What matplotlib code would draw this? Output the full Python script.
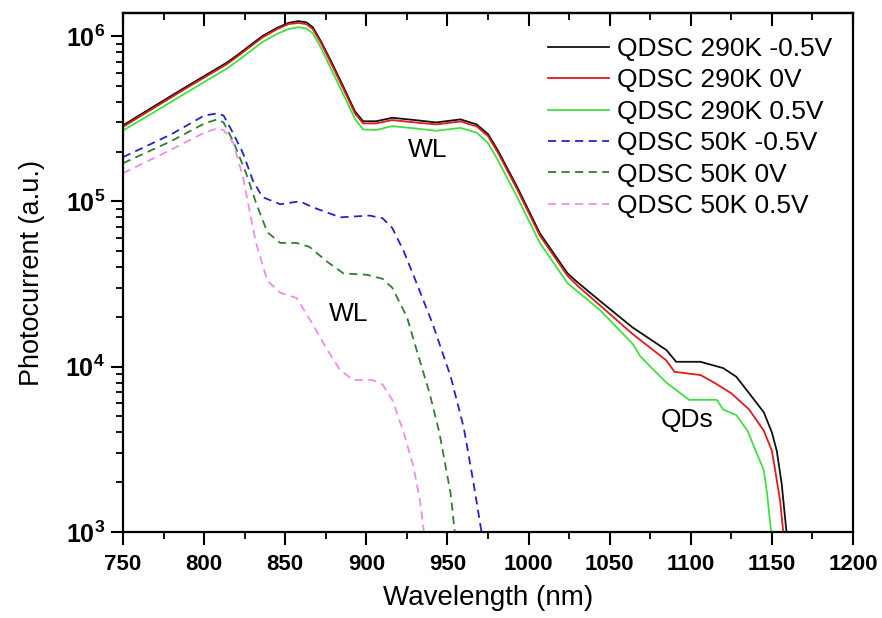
import math
import matplotlib
matplotlib.use("Agg")
import matplotlib.pyplot as plt
from matplotlib.ticker import MultipleLocator, LogLocator, FuncFormatter, NullFormatter

plt.rcParams['font.family'] = ['Liberation Sans', 'DejaVu Sans']
plt.rcParams['mathtext.fontset'] = 'custom'
plt.rcParams['mathtext.rm'] = 'Liberation Sans'
plt.rcParams['mathtext.bf'] = 'Liberation Sans:bold'

# ---- data ----
wl_290_m05 = [750, 770, 790, 814, 820, 836, 845, 852, 858, 863, 867, 872, 879, 886, 893, 898, 906, 916,
              930, 943, 958, 968, 975, 981, 993, 1007, 1024, 1030, 1044, 1064, 1085, 1091, 1106, 1120,
              1128, 1136, 1145, 1150, 1153, 1156, 1159, 1160]
pc_290_m05 = [2.88e5, 3.8e5, 5.0e5, 6.9e5, 7.6e5, 1.0e6, 1.12e6, 1.2e6, 1.23e6, 1.21e6, 1.13e6, 9.3e5,
              6.8e5, 4.9e5, 3.5e5, 3.05e5, 3.05e5, 3.2e5, 3.1e5, 3.0e5, 3.13e5, 2.92e5, 2.55e5, 2.04e5,
              1.22e5, 6.4e4, 3.67e4, 3.25e4, 2.5e4, 1.73e4, 1.26e4, 1.07e4, 1.07e4, 9.8e3, 8.7e3, 6.9e3,
              5.3e3, 4.0e3, 3.1e3, 1.97e3, 1.0e3, 8e2]

wl_290_0 = [750, 770, 790, 814, 820, 836, 845, 852, 858, 863, 867, 872, 879, 886, 893, 898, 906, 916,
            930, 943, 958, 968, 975, 981, 993, 1007, 1024, 1030, 1044, 1064, 1085, 1090, 1106, 1115,
            1125, 1136, 1145, 1150, 1152, 1155, 1157, 1158]
pc_290_0 = [2.82e5, 3.72e5, 4.9e5, 6.75e5, 7.45e5, 9.8e5, 1.1e6, 1.18e6, 1.2e6, 1.18e6, 1.1e6, 9.1e5,
            6.6e5, 4.75e5, 3.4e5, 2.96e5, 2.96e5, 3.1e5, 3.0e5, 2.92e5, 3.04e5, 2.84e5, 2.48e5, 1.98e5,
            1.18e5, 6.2e4, 3.55e4, 3.1e4, 2.35e4, 1.58e4, 1.09e4, 9.3e3, 8.9e3, 7.95e3, 6.9e3, 5.5e3,
            4.1e3, 3.1e3, 2.37e3, 1.56e3, 1.0e3, 8e2]

wl_290_p05 = [750, 770, 790, 814, 820, 836, 845, 852, 858, 863, 867, 872, 879, 886, 893, 898, 906, 916,
              930, 943, 958, 968, 975, 981, 993, 1007, 1024, 1044, 1064, 1069, 1085, 1099, 1116, 1120,
              1128, 1135, 1140, 1145, 1147, 1149.5, 1150.5]
pc_290_p05 = [2.68e5, 3.5e5, 4.6e5, 6.35e5, 7.0e5, 9.2e5, 1.03e6, 1.1e6, 1.13e6, 1.11e6, 1.04e6, 8.5e5,
              6.1e5, 4.4e5, 3.15e5, 2.72e5, 2.7e5, 2.85e5, 2.76e5, 2.67e5, 2.78e5, 2.6e5, 2.25e5, 1.78e5,
              1.06e5, 5.6e4, 3.2e4, 2.2e4, 1.38e4, 1.15e4, 8.0e3, 6.3e3, 6.3e3, 5.5e3, 5.1e3, 4.1e3,
              3.1e3, 2.37e3, 1.72e3, 1.0e3, 8e2]

wl_50_m05 = [750, 780, 800, 808, 812, 818, 824, 830, 836, 847, 859, 867, 884, 902, 910, 916, 923, 931,
             941, 952, 960, 966, 971, 972]
pc_50_m05 = [1.85e5, 2.55e5, 3.3e5, 3.4e5, 3.3e5, 2.57e5, 1.95e5, 1.34e5, 1.06e5, 9.6e4, 1.0e5, 9.2e4,
             8.0e4, 8.2e4, 7.9e4, 6.9e4, 5.0e4, 3.2e4, 1.8e4, 8.7e3, 4.3e3, 2.0e3, 1.0e3, 9e2]

wl_50_0 = [750, 780, 800, 808, 812, 818, 826, 832, 839, 847, 857, 865, 876, 886, 900, 910, 916, 925,
           931, 939, 945, 952, 954.5, 956]
pc_50_0 = [1.70e5, 2.32e5, 2.95e5, 3.13e5, 3.0e5, 2.3e5, 1.47e5, 9.8e4, 6.5e4, 5.6e4, 5.6e4, 5.3e4,
           4.3e4, 3.66e4, 3.6e4, 3.4e4, 3.0e4, 2.0e4, 1.26e4, 6.9e3, 4.0e3, 1.7e3, 1.0e3, 9e2]

wl_50_p05 = [750, 780, 800, 808, 812, 818, 824, 828, 832, 839, 847, 857, 867, 876, 884, 892, 904, 910,
             916, 923, 929, 933, 935.5, 937]
pc_50_p05 = [1.48e5, 2.06e5, 2.6e5, 2.76e5, 2.7e5, 2.25e5, 1.4e5, 8.8e4, 5.6e4, 3.3e4, 2.8e4, 2.6e4,
             1.8e4, 1.26e4, 9.5e3, 8.3e3, 8.3e3, 7.8e3, 6.3e3, 4.0e3, 2.5e3, 1.56e3, 1.0e3, 9e2]

labels = ["QDSC 290K -0.5V", "QDSC 290K 0V", "QDSC 290K 0.5V",
          "QDSC 50K -0.5V", "QDSC 50K 0V", "QDSC 50K 0.5V"]
x_ticks = [750, 800, 850, 900, 950, 1000, 1050, 1100, 1150, 1200]

# ---- figure ----
fig = plt.figure(figsize=(8.82, 6.18), dpi=100)
ax = fig.add_axes([123/882, 1-532/618, 730/882, 519/618])

solid_lw = 1.3
dash_lw = 1.3
dash = (4.5, 3.0)
ax.plot(wl_290_m05, pc_290_m05, color='#111111', lw=solid_lw, label=labels[0])
ax.plot(wl_290_0, pc_290_0, color='#e01b1b', lw=solid_lw, label=labels[1])
ax.plot(wl_290_p05, pc_290_p05, color='#3fe03f', lw=solid_lw, label=labels[2])
ax.plot(wl_50_m05, pc_50_m05, color='#2323c8', lw=dash_lw, ls=(0, dash), label=labels[3])
ax.plot(wl_50_0, pc_50_0, color='#2f7f2f', lw=dash_lw, ls=(0, dash), label=labels[4])
ax.plot(wl_50_p05, pc_50_p05, color='#ee8cee', lw=dash_lw, ls=(0, dash), label=labels[5])

ax.set_yscale('log')
ax.set_xlim(750, 1200)
ax.set_ylim(1e3, 10**6.139)

ax.set_xticks(x_ticks)
ax.xaxis.set_minor_locator(MultipleLocator(25))
ax.yaxis.set_major_locator(LogLocator(base=10, numticks=10))
ax.yaxis.set_minor_locator(LogLocator(base=10, subs=range(2, 10), numticks=20))
ax.yaxis.set_minor_formatter(NullFormatter())
ax.yaxis.set_major_formatter(FuncFormatter(lambda v, p: r'$\mathbf{10^{%d}}$' % round(math.log10(v))))

for lab in ax.get_xticklabels():
    lab.set_fontweight('bold')
ax.tick_params(axis='both', which='major', direction='out', length=9, width=1.5, labelsize=16)
ax.tick_params(axis='both', which='minor', direction='out', length=5, width=1.3)
ax.tick_params(axis='x', which='major', pad=7)
ax.tick_params(axis='y', which='major', labelsize=18, pad=4)

secx = ax.secondary_xaxis('top')
secx.set_xticks(x_ticks)
secx.xaxis.set_minor_locator(MultipleLocator(25))
secx.tick_params(axis='x', which='major', direction='in', length=9, width=1.5, labeltop=False)
secx.tick_params(axis='x', which='minor', direction='in', length=5, width=1.3)
secx.spines['top'].set_linewidth(1.6)

for s in ax.spines.values():
    s.set_linewidth(1.6)

ax.set_xlabel('Wavelength (nm)', fontsize=20)
ax.set_ylabel('Photocurrent (a.u.)', fontsize=19.5)
ax.xaxis.set_label_coords(0.5, (532 - 585) / 519)
ax.yaxis.set_label_coords((45 - 123) / 730, 0.5)

ax.text(938, 2.04e5, 'WL', fontsize=19, ha='center', va='center')
ax.text(889, 2.07e4, 'WL', fontsize=19, ha='center', va='center')
ax.text(1097.7, 4.75e3, 'QDs', fontsize=19, ha='center', va='center')

leg = ax.legend(loc='upper left', bbox_to_anchor=(548/882, 1-37/618), bbox_transform=fig.transFigure,
                frameon=False, fontsize=19, handlelength=2.3, handletextpad=0.3,
                labelspacing=0.28, borderaxespad=0, borderpad=0)

fig.savefig('out.png', dpi=100)
